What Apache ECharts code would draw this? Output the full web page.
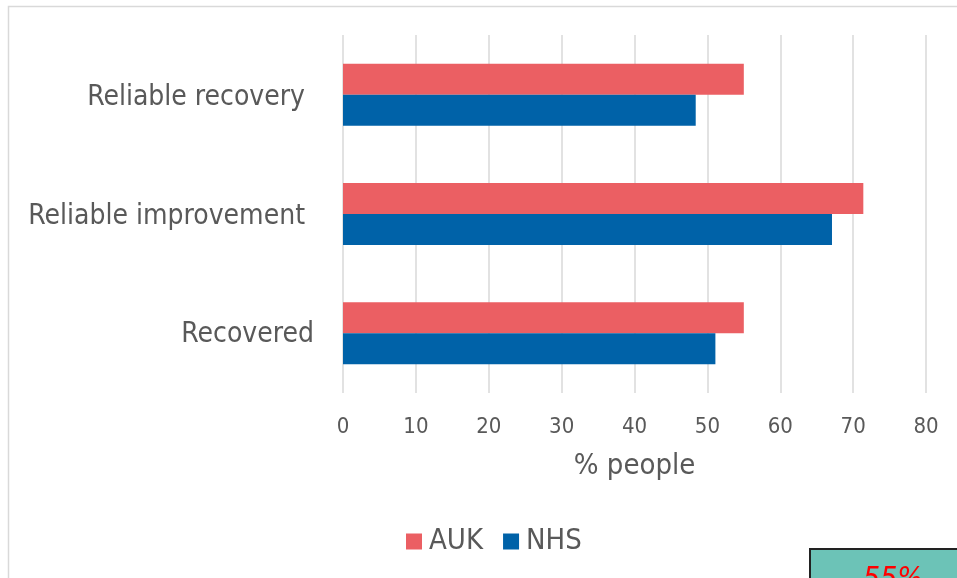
<!DOCTYPE html>
<html>
<head>
<meta charset="utf-8">
<script src="https://cdn.jsdelivr.net/npm/echarts@6/dist/echarts.min.js"></script>
<style>
  html, body { margin: 0; padding: 0; background: #fff; }
  #chart { width: 957px; height: 578px; }
</style>
</head>
<body>
<div id="chart"></div>
<script>
// categories, top to bottom
const categories = ['Reliable recovery', 'Reliable improvement', 'Recovered'];
const auk = [55, 71.4, 55];
const nhs = [48.4, 67.1, 51.1];
const xTicks = [0, 80, 10]; // min, max, interval

const FONT = "'DejaVu Sans Condensed', 'DejaVu Sans'";
const TEXT = '#595959';

const chart = echarts.init(document.getElementById('chart'));

const option = {
    animation: false,
    textStyle: { fontFamily: FONT },
    graphic: [
        // outer chart border, only top/left visible
        {
            type: 'rect',
            shape: { x: 8.5, y: 6.5, width: 1200, height: 1200 },
            style: { fill: 'none', stroke: '#d9d9d9', lineWidth: 1.5 },
            silent: true
        },
        // teal callout box poking in from the corner
        {
            type: 'rect',
            shape: { x: 810, y: 549, width: 200, height: 80 },
            style: { fill: '#6cc3b7', stroke: '#222', lineWidth: 2 },
            z: 10
        },
        {
            type: 'text',
            left: 863,
            top: 565,
            style: {
                text: '55%',
                fill: '#ff0000',
                font: 'italic 30px ' + FONT
            },
            z: 11
        }
    ],
    legend: {
        data: ['AUK', 'NHS'],
        bottom: 17,
        left: 401,
        itemWidth: 16,
        itemHeight: 16,
        itemGap: 20,
        icon: 'rect',
        textStyle: { color: TEXT, fontSize: 29, fontFamily: FONT, padding: [0, 0, 0, 2] }
    },
    grid: {
        left: 343,
        right: 31,
        top: 35,
        bottom: 185
    },
    xAxis: {
        type: 'value',
        min: xTicks[0],
        max: xTicks[1],
        interval: xTicks[2],
        name: '% people',
        nameLocation: 'middle',
        nameGap: 59,
        nameTextStyle: { color: TEXT, fontSize: 29, fontFamily: FONT },
        axisLine: { show: false },
        axisTick: { show: false },
        axisLabel: { color: TEXT, fontSize: 22, margin: 23, fontFamily: FONT },
        splitLine: { lineStyle: { color: '#d9d9d9', width: 1.5 } }
    },
    yAxis: {
        type: 'category',
        data: categories,
        inverse: true,
        axisLine: { show: false },
        axisTick: { show: false },
        axisLabel: {
            color: TEXT,
            fontSize: 28,
            margin: 29,
            fontFamily: FONT,
            formatter: v => v === 'Recovered' ? v : '{p|' + v + '}',
            rich: {
                p: { color: TEXT, fontSize: 28, fontFamily: FONT, padding: [3, 9, 0, 0] }
            },
            padding: [3, 0, 0, 0]
        }
    },
    series: [
        {
            name: 'AUK',
            type: 'bar',
            data: auk,
            barWidth: 31,
            barGap: '0%',
            itemStyle: { color: '#eb5f63' }
        },
        {
            name: 'NHS',
            type: 'bar',
            data: nhs,
            barWidth: 31,
            barGap: '0%',
            itemStyle: { color: '#0062a8' }
        }
    ]
};

chart.setOption(option);
</script>
</body>
</html>
